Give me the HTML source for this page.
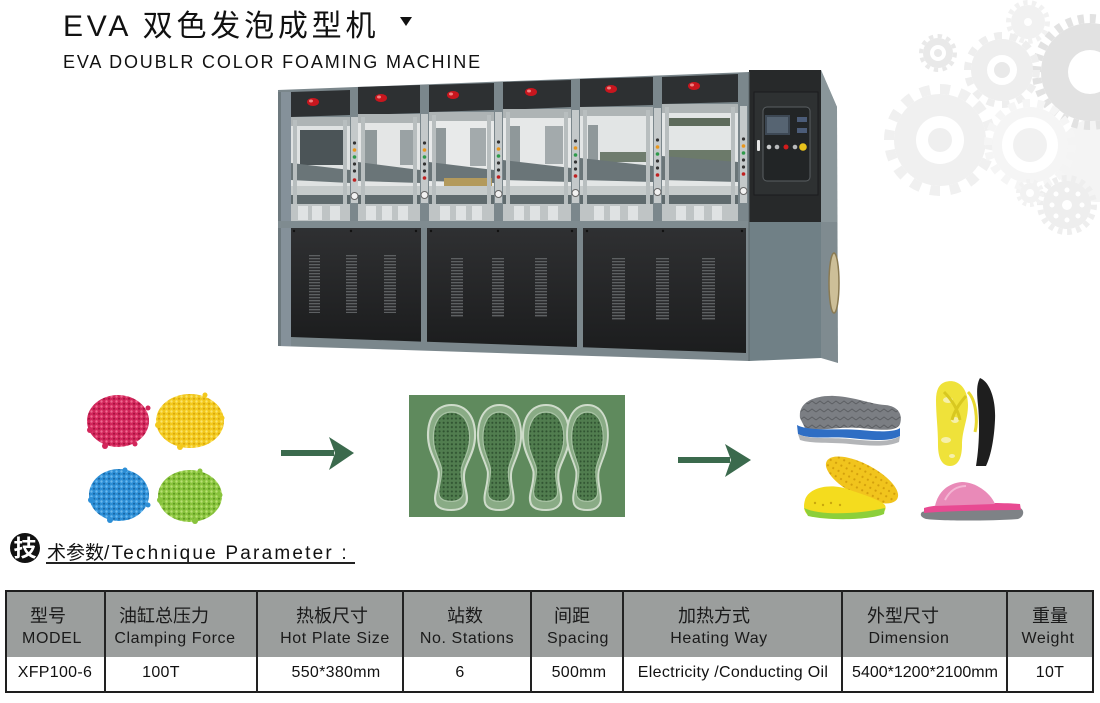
<!DOCTYPE html>
<html><head><meta charset="utf-8">
<style>
html,body{margin:0;padding:0;background:#fff;}
body{width:1100px;height:703px;position:relative;overflow:hidden;font-family:"Liberation Sans","Noto Sans CJK SC",sans-serif;color:#111;}
.a{position:absolute;white-space:nowrap;}
.c{position:absolute;white-space:nowrap;width:240px;text-align:center;}
.zh{font-size:18px;line-height:20px;top:606px;color:#1a1a1a;}
.en{font-size:16px;line-height:18px;top:630px;letter-spacing:0.6px;color:#1a1a1a;}
.dt{font-size:16px;line-height:18px;top:664px;letter-spacing:0.3px;color:#111;}
.vl{position:absolute;top:590px;width:2px;height:103px;background:#222;}
</style></head><body>

<svg width="1100" height="703" viewBox="0 0 1100 703" style="position:absolute;left:0;top:0">
<defs>
<pattern id="vent" width="12" height="3" patternUnits="userSpaceOnUse"><rect width="12" height="3" fill="#2a2b2d"/><rect y="0" width="12" height="1.3" fill="#5d6062"/></pattern>
<linearGradient id="blk" x1="0" y1="0" x2="0" y2="1"><stop offset="0" stop-color="#2f3032"/><stop offset="1" stop-color="#1c1d1e"/></linearGradient>
<pattern id="pk" width="5" height="5" patternUnits="userSpaceOnUse"><rect width="5" height="5" fill="#d2265b"/><circle cx="1.5" cy="1.5" r="1.2" fill="#ef6a90"/><circle cx="4" cy="3.8" r="1" fill="#a3103c"/></pattern>
<pattern id="yl" width="5" height="5" patternUnits="userSpaceOnUse"><rect width="5" height="5" fill="#f3c91d"/><circle cx="1.5" cy="1.5" r="1.2" fill="#fbe46c"/><circle cx="4" cy="3.8" r="1" fill="#d6a40c"/></pattern>
<pattern id="bl" width="5" height="5" patternUnits="userSpaceOnUse"><rect width="5" height="5" fill="#2c8ed6"/><circle cx="1.5" cy="1.5" r="1.2" fill="#6cb9ee"/><circle cx="4" cy="3.8" r="1" fill="#17649f"/></pattern>
<pattern id="gr" width="5" height="5" patternUnits="userSpaceOnUse"><rect width="5" height="5" fill="#88c33c"/><circle cx="1.5" cy="1.5" r="1.2" fill="#b9e074"/><circle cx="4" cy="3.8" r="1" fill="#5c971e"/></pattern>
<pattern id="dots" width="5" height="5" patternUnits="userSpaceOnUse"><rect width="5" height="5" fill="#517d4f"/><circle cx="2.5" cy="2.5" r="1.3" fill="#2f5230"/></pattern>
<pattern id="tread" width="8" height="8" patternUnits="userSpaceOnUse"><rect width="8" height="8" fill="#7b7e83"/><path d="M0,4 L4,1 L8,4" stroke="#5c5f63" stroke-width="1" fill="none"/></pattern>
<pattern id="cdot" width="6" height="6" patternUnits="userSpaceOnUse"><rect width="6" height="6" fill="#f1c41d"/><circle cx="3" cy="3" r="1.1" fill="#d39f0c"/></pattern>
<path id="sole" d="M22,0 C36,0 44,12 44,30 C44,46 36,56 34,66 C32,78 38,88 36,96 C34,102 28,104 22,104 C14,104 8,102 7,96 C5,88 11,78 10,66 C8,56 0,46 0,30 C0,12 8,0 22,0 Z"/>
</defs>

<!-- gears background -->
<circle cx="1098" cy="160" r="42" fill="#f4f4f4"/>
<g fill="#e2e2e2"><circle cx="1090" cy="72" r="49"/><circle cx="1090" cy="72" r="53.5" fill="none" stroke="#e2e2e2" stroke-width="9" pathLength="56" stroke-dasharray="1 1"/></g>
<circle cx="1090" cy="72" r="22" fill="#fff"/>
<g fill="#f1f1f1"><circle cx="1028" cy="22" r="17"/><circle cx="1028" cy="22" r="19.5" fill="none" stroke="#f1f1f1" stroke-width="5" pathLength="28" stroke-dasharray="1 1"/></g>
<circle cx="1028" cy="22" r="4" fill="#fff"/>
<g fill="#eeeeee"><circle cx="1002" cy="70" r="31"/><circle cx="1002" cy="70" r="34.5" fill="none" stroke="#eeeeee" stroke-width="7" pathLength="28" stroke-dasharray="1 1"/></g>
<circle cx="1002" cy="70" r="15" fill="#fff"/><circle cx="1002" cy="70" r="8" fill="#e9e9e9"/>
<g fill="#e9e9e9"><circle cx="938" cy="53" r="15"/><circle cx="938" cy="53" r="17" fill="none" stroke="#e9e9e9" stroke-width="4" pathLength="24" stroke-dasharray="1 1"/></g>
<circle cx="938" cy="53" r="8" fill="#fff"/><circle cx="938" cy="53" r="4" fill="#e9e9e9"/>
<g fill="#f0f0f0"><circle cx="940" cy="140" r="46"/><circle cx="940" cy="140" r="51" fill="none" stroke="#f0f0f0" stroke-width="10" pathLength="32" stroke-dasharray="1 1"/></g>
<circle cx="940" cy="140" r="24" fill="#fff"/><circle cx="940" cy="140" r="12" fill="#efefef"/>
<g fill="#f5f5f5"><circle cx="1030" cy="145" r="38"/><circle cx="1030" cy="145" r="42" fill="none" stroke="#f5f5f5" stroke-width="8" pathLength="36" stroke-dasharray="1 1"/></g>
<circle cx="1030" cy="145" r="28" fill="#fff"/><circle cx="1030" cy="145" r="17" fill="#f1f1f1"/>
<g fill="#eeeeee"><circle cx="1067" cy="205" r="24"/><circle cx="1067" cy="205" r="27" fill="none" stroke="#eeeeee" stroke-width="6" pathLength="36" stroke-dasharray="1 1"/></g>
<g fill="#fff"><circle cx="1067" cy="205" r="5"/><circle cx="1067" cy="190" r="2.5"/><circle cx="1067" cy="220" r="2.5"/><circle cx="1052" cy="205" r="2.5"/><circle cx="1082" cy="205" r="2.5"/><circle cx="1056" cy="194" r="2.5"/><circle cx="1078" cy="216" r="2.5"/><circle cx="1078" cy="194" r="2.5"/><circle cx="1056" cy="216" r="2.5"/></g>
<g fill="#f2f2f2"><circle cx="1030" cy="193" r="10"/><circle cx="1030" cy="193" r="12" fill="none" stroke="#f2f2f2" stroke-width="4" pathLength="20" stroke-dasharray="1 1"/></g>
<circle cx="1030" cy="193" r="4" fill="#fff"/>

<!-- MACHINE -->
<polygon points="278,90 749,72 749,361 278,346" fill="#7b878c"/>
<rect x="278" y="92" width="13" height="254" fill="#85919a"/>
<rect x="278" y="92" width="3" height="254" fill="#6d797e"/>
<!-- station 1 -->
<rect x="291" y="117" width="59" height="104" fill="#dfe2e2"/>
<rect x="300" y="130" width="44" height="35" fill="#4b5457"/>
<polygon points="291,92 350,90 350,115 291,117" fill="#2d3032"/>
<ellipse cx="313" cy="102" rx="6" ry="4" fill="#c8161e"/><ellipse cx="311" cy="101" rx="2" ry="1.5" fill="#f08080"/>
<!-- station 2 -->
<rect x="358" y="114" width="62" height="107" fill="#e4e6e6"/>
<rect x="365" y="130" width="12" height="35" fill="#8f989a"/><rect x="400" y="130" width="14" height="35" fill="#9aa2a4"/>
<polygon points="358,87 420,85 420,113 358,115" fill="#2d3032"/>
<ellipse cx="381" cy="98" rx="6" ry="4" fill="#c8161e"/><ellipse cx="379" cy="97" rx="2" ry="1.5" fill="#f08080"/>
<!-- station 3 -->
<rect x="429" y="112" width="65" height="109" fill="#e8eaea"/>
<rect x="436" y="128" width="10" height="38" fill="#8f989a"/><rect x="470" y="128" width="16" height="38" fill="#a3aaac"/>
<polygon points="429,85 494,83 494,110 429,112" fill="#2d3032"/>
<ellipse cx="453" cy="95" rx="6" ry="4" fill="#c8161e"/><ellipse cx="451" cy="94" rx="2" ry="1.5" fill="#f08080"/>
<!-- station 4 -->
<rect x="503" y="109" width="68" height="112" fill="#e6e8e8"/>
<rect x="510" y="126" width="10" height="38" fill="#8f989a"/><rect x="545" y="126" width="18" height="38" fill="#a3aaac"/>
<polygon points="503,82 571,80 571,107 503,110" fill="#2d3032"/>
<ellipse cx="531" cy="92" rx="6" ry="4" fill="#c8161e"/><ellipse cx="529" cy="91" rx="2" ry="1.5" fill="#f08080"/>
<!-- station 5 -->
<rect x="580" y="107" width="73" height="114" fill="#e2e5e5"/>
<rect x="588" y="125" width="10" height="40" fill="#8f989a"/><rect x="600" y="152" width="48" height="10" fill="#6f7c6e"/>
<polygon points="580,79 653,77 653,105 580,107" fill="#2d3032"/>
<ellipse cx="611" cy="89" rx="6" ry="4" fill="#c8161e"/><ellipse cx="609" cy="88" rx="2" ry="1.5" fill="#f08080"/>
<!-- station 6 -->
<rect x="662" y="104" width="76" height="117" fill="#e3e6e6"/>
<rect x="668" y="150" width="64" height="14" fill="#6c7a6a"/><rect x="668" y="118" width="62" height="8" fill="#5e6b5c"/>
<polygon points="662,77 738,74 738,102 662,104" fill="#2d3032"/>
<ellipse cx="694" cy="86" rx="6" ry="4" fill="#c8161e"/><ellipse cx="692" cy="85" rx="2" ry="1.5" fill="#f08080"/>

<!-- common platens across stations -->
<g>
<rect x="291" y="117" width="59" height="9" fill="#aeb4b5"/>
<rect x="358" y="114" width="62" height="9" fill="#aeb4b5"/>
<rect x="429" y="112" width="65" height="9" fill="#aeb4b5"/>
<rect x="503" y="109" width="68" height="9" fill="#aeb4b5"/>
<rect x="580" y="107" width="73" height="9" fill="#aeb4b5"/>
<rect x="662" y="104" width="76" height="9" fill="#aeb4b5"/>
</g>
<polygon points="291,163 350,170 350,183 291,180" fill="#6a7578"/>
<polygon points="358,162 420,170 420,183 358,181" fill="#6a7578"/>
<polygon points="429,162 494,170 494,183 429,181" fill="#6a7578"/>
<polygon points="503,160 571,168 571,182 503,180" fill="#6a7578"/>
<polygon points="580,158 653,166 653,182 580,180" fill="#6a7578"/>
<polygon points="662,156 738,162 738,182 662,180" fill="#6a7578"/>
<rect x="444" y="178" width="48" height="9" fill="#b39a5c"/>
<rect x="291" y="186" width="447" height="9" fill="#c6cbcb"/>
<rect x="291" y="195" width="447" height="9" fill="#5f6a6d"/>
<rect x="291" y="204" width="447" height="17" fill="#bfc4c5"/>
<g fill="#dfe2e3">
<rect x="298" y="206" width="10" height="14"/><rect x="312" y="206" width="10" height="14"/><rect x="330" y="206" width="10" height="14"/>
<rect x="366" y="206" width="10" height="14"/><rect x="382" y="206" width="10" height="14"/><rect x="398" y="206" width="10" height="14"/>
<rect x="440" y="206" width="10" height="14"/><rect x="456" y="206" width="10" height="14"/><rect x="472" y="206" width="10" height="14"/>
<rect x="514" y="206" width="10" height="14"/><rect x="530" y="206" width="10" height="14"/><rect x="548" y="206" width="10" height="14"/>
<rect x="594" y="206" width="10" height="14"/><rect x="610" y="206" width="10" height="14"/><rect x="628" y="206" width="10" height="14"/>
<rect x="676" y="206" width="10" height="14"/><rect x="694" y="206" width="10" height="14"/><rect x="712" y="206" width="10" height="14"/>
</g>
<!-- frame posts between stations -->
<g fill="#7b878c">
<rect x="350" y="88" width="8" height="134"/><rect x="420" y="85" width="9" height="137"/><rect x="494" y="82" width="9" height="140"/>
<rect x="571" y="80" width="9" height="142"/><rect x="653" y="77" width="9" height="145"/><rect x="738" y="74" width="11" height="148"/>
</g>
<g fill="#b8bebf">
<rect x="293" y="120" width="4" height="84"/><rect x="343" y="120" width="4" height="84"/>
<rect x="361" y="117" width="4" height="87"/><rect x="413" y="117" width="4" height="87"/>
<rect x="432" y="115" width="4" height="89"/><rect x="487" y="115" width="4" height="89"/>
<rect x="506" y="112" width="4" height="92"/><rect x="564" y="112" width="4" height="92"/>
<rect x="583" y="110" width="4" height="94"/><rect x="646" y="110" width="4" height="94"/>
<rect x="665" y="107" width="4" height="97"/><rect x="731" y="107" width="4" height="97"/>
</g>
<!-- control strips -->
<g>
<rect x="351" y="117" width="7" height="86" fill="#c4c9ca"/>
<rect x="421" y="114" width="7" height="89" fill="#c4c9ca"/>
<rect x="495" y="112" width="7" height="91" fill="#c4c9ca"/>
<rect x="572" y="110" width="7" height="93" fill="#c4c9ca"/>
<rect x="654" y="108" width="7" height="95" fill="#c4c9ca"/>
<rect x="740" y="106" width="7" height="97" fill="#c4c9ca"/>
</g>
<g>
<circle cx="354.5" cy="150" r="1.8" fill="#e8961c"/><circle cx="354.5" cy="157" r="1.8" fill="#2e9a4a"/><circle cx="354.5" cy="180" r="1.8" fill="#c02020"/><circle cx="354.5" cy="143" r="1.6" fill="#333"/><circle cx="354.5" cy="164" r="1.6" fill="#333"/><circle cx="354.5" cy="171" r="1.6" fill="#333"/>
<circle cx="424.5" cy="150" r="1.8" fill="#e8961c"/><circle cx="424.5" cy="157" r="1.8" fill="#2e9a4a"/><circle cx="424.5" cy="178" r="1.8" fill="#c02020"/><circle cx="424.5" cy="143" r="1.6" fill="#333"/><circle cx="424.5" cy="164" r="1.6" fill="#333"/><circle cx="424.5" cy="171" r="1.6" fill="#333"/>
<circle cx="498.5" cy="149" r="1.8" fill="#e8961c"/><circle cx="498.5" cy="156" r="1.8" fill="#2e9a4a"/><circle cx="498.5" cy="177" r="1.8" fill="#c02020"/><circle cx="498.5" cy="142" r="1.6" fill="#333"/><circle cx="498.5" cy="163" r="1.6" fill="#333"/><circle cx="498.5" cy="170" r="1.6" fill="#333"/>
<circle cx="575.5" cy="148" r="1.8" fill="#e8961c"/><circle cx="575.5" cy="155" r="1.8" fill="#2e9a4a"/><circle cx="575.5" cy="176" r="1.8" fill="#c02020"/><circle cx="575.5" cy="141" r="1.6" fill="#333"/><circle cx="575.5" cy="162" r="1.6" fill="#333"/><circle cx="575.5" cy="169" r="1.6" fill="#333"/>
<circle cx="657.5" cy="147" r="1.8" fill="#e8961c"/><circle cx="657.5" cy="154" r="1.8" fill="#2e9a4a"/><circle cx="657.5" cy="175" r="1.8" fill="#c02020"/><circle cx="657.5" cy="140" r="1.6" fill="#333"/><circle cx="657.5" cy="161" r="1.6" fill="#333"/><circle cx="657.5" cy="168" r="1.6" fill="#333"/>
<circle cx="743.5" cy="146" r="1.8" fill="#e8961c"/><circle cx="743.5" cy="153" r="1.8" fill="#2e9a4a"/><circle cx="743.5" cy="174" r="1.8" fill="#c02020"/><circle cx="743.5" cy="139" r="1.6" fill="#333"/><circle cx="743.5" cy="160" r="1.6" fill="#333"/><circle cx="743.5" cy="167" r="1.6" fill="#333"/>
</g>
<g fill="#f2f2f2" stroke="#666" stroke-width="1">
<circle cx="354.5" cy="196" r="3.5"/><circle cx="424.5" cy="195" r="3.5"/><circle cx="498.5" cy="194" r="3.5"/><circle cx="575.5" cy="193" r="3.5"/><circle cx="657.5" cy="192" r="3.5"/><circle cx="743.5" cy="191" r="3.5"/>
</g>

<!-- lower section -->
<rect x="278" y="221" width="471" height="7" fill="#7f8b90"/>
<polygon points="291,228 421,228 421,341.6 291,337" fill="url(#blk)"/>
<polygon points="427,228 577,228 577,347 427,341.8" fill="url(#blk)"/>
<polygon points="583,228 746,228 746,353 583,347.3" fill="url(#blk)"/>
<g fill="url(#vent)">
<rect x="309" y="255" width="11" height="58"/><rect x="346" y="255" width="11" height="58"/><rect x="384" y="255" width="12" height="58"/>
<rect x="451" y="257" width="12" height="60"/><rect x="492" y="257" width="12" height="60"/><rect x="535" y="257" width="12" height="60"/>
<rect x="612" y="258" width="13" height="62"/><rect x="656" y="258" width="13" height="62"/><rect x="702" y="258" width="13" height="62"/>
</g>
<g fill="#111"><circle cx="294" cy="231" r="1.2"/><circle cx="351" cy="231" r="1.2"/><circle cx="416" cy="231" r="1.2"/><circle cx="431" cy="231" r="1.2"/><circle cx="498" cy="231" r="1.2"/><circle cx="572" cy="231" r="1.2"/><circle cx="587" cy="231" r="1.2"/><circle cx="663" cy="231" r="1.2"/><circle cx="742" cy="231" r="1.2"/></g>

<!-- control cabinet -->
<rect x="749" y="70" width="72" height="152" fill="#27292a"/>
<rect x="754" y="92" width="64" height="103" fill="#2e3132" stroke="#1b1c1d" stroke-width="1"/>
<rect x="763" y="107" width="47" height="74" rx="4" fill="#222526" stroke="#5a5f62" stroke-width="1"/>
<rect x="765" y="115" width="25" height="20" fill="#3d4854"/>
<rect x="767" y="117" width="21" height="16" fill="#566472"/>
<rect x="797" y="117" width="10" height="5" fill="#4b5c78"/><rect x="797" y="128" width="10" height="5" fill="#4b5c78"/>
<rect x="757" y="140" width="3" height="11" rx="1" fill="#e6e6e6"/>
<circle cx="769" cy="147" r="2.3" fill="#c8cacb"/><circle cx="777" cy="147" r="2.3" fill="#b8babb"/><circle cx="786" cy="147" r="2.5" fill="#d21c1c"/><circle cx="795" cy="147" r="2.3" fill="#b8babb"/><circle cx="803" cy="147" r="3.8" fill="#e8c21c"/>
<polygon points="749,222 821,222 821,358 749,361" fill="#708086"/>
<polygon points="821,70 837,107 838,363 821,358" fill="#7f8b90"/>
<polygon points="821,70 837,107 837,222 821,222" fill="#8a969a"/>
<ellipse cx="834" cy="283" rx="5" ry="30" fill="#cdbf98" stroke="#8a7a52" stroke-width="1.5"/>
<line x1="749" y1="72" x2="749" y2="361" stroke="#5c676b" stroke-width="1"/>

<!-- pellets -->
<ellipse cx="118" cy="421" rx="31" ry="26" fill="url(#pk)"/>
<g fill="#d2265b"><circle cx="90" cy="430" r="3"/><circle cx="148" cy="408" r="2.5"/><circle cx="105" cy="446" r="3"/><circle cx="135" cy="444" r="2.5"/></g>
<ellipse cx="190" cy="421" rx="34" ry="27" fill="url(#yl)"/>
<g fill="#f3c91d"><circle cx="158" cy="425" r="3"/><circle cx="222" cy="418" r="2.5"/><circle cx="180" cy="447" r="3"/><circle cx="205" cy="395" r="2.5"/></g>
<ellipse cx="119" cy="495" rx="30" ry="26" fill="url(#bl)"/>
<g fill="#2c8ed6"><circle cx="91" cy="500" r="3"/><circle cx="148" cy="505" r="2.5"/><circle cx="110" cy="520" r="3"/><circle cx="125" cy="470" r="2.5"/></g>
<ellipse cx="190" cy="496" rx="32" ry="26" fill="url(#gr)"/>
<g fill="#88c33c"><circle cx="160" cy="500" r="3"/><circle cx="220" cy="495" r="2.5"/><circle cx="195" cy="521" r="3"/><circle cx="200" cy="471" r="2.5"/></g>

<!-- arrows -->
<rect x="281" y="450" width="53" height="6" fill="#3b6a4d"/>
<polygon points="329,437 354,453 329,470 335,453" fill="#3b6a4d"/>
<rect x="678" y="457" width="52" height="6" fill="#3b6a4d"/>
<polygon points="725,444 751,460 725,477 731,460" fill="#3b6a4d"/>

<!-- mold -->
<rect x="409" y="395" width="216" height="122" fill="#5f8a5d"/>
<g transform="translate(428,405) scale(1.07,1.01)"><use href="#sole" fill="#89ab85" stroke="#cfdccb" stroke-width="2"/><g transform="translate(5,7) scale(0.77,0.85)"><use href="#sole" fill="url(#dots)" stroke="#a7c2a3" stroke-width="1.5"/></g></g>
<g transform="translate(478,405) scale(0.98,1.01)"><use href="#sole" fill="#89ab85" stroke="#cfdccb" stroke-width="2"/><g transform="translate(5,7) scale(0.77,0.85)"><use href="#sole" fill="url(#dots)" stroke="#a7c2a3" stroke-width="1.5"/></g></g>
<g transform="translate(523,405) scale(1.05,1.01)"><use href="#sole" fill="#89ab85" stroke="#cfdccb" stroke-width="2"/><g transform="translate(5,7) scale(0.77,0.85)"><use href="#sole" fill="url(#dots)" stroke="#a7c2a3" stroke-width="1.5"/></g></g>
<g transform="translate(567,405) scale(0.93,1.01)"><use href="#sole" fill="#89ab85" stroke="#cfdccb" stroke-width="2"/><g transform="translate(5,7) scale(0.77,0.85)"><use href="#sole" fill="url(#dots)" stroke="#a7c2a3" stroke-width="1.5"/></g></g>

<!-- shoes -->
<path d="M800,418 C798,402 815,395 835,396 C855,397 870,404 885,405 C898,406 903,414 900,424 C897,432 880,430 860,428 C840,426 820,432 805,428 Z" fill="url(#tread)"/>
<path d="M797,425 C810,432 840,428 860,430 C880,432 895,432 900,428 L900,436 C890,442 870,440 850,438 C830,436 810,440 798,434 Z" fill="#2f6ec4"/>
<path d="M798,434 C810,440 830,437 850,439 C870,441 890,443 900,436 L899,442 C888,447 870,446 850,444 C830,442 812,444 800,440 Z" fill="#b3b5b8"/>
<path d="M945,382 C958,378 968,388 968,405 C968,420 962,430 962,445 C962,458 958,466 950,466 C942,466 938,458 938,445 C938,428 936,415 936,400 C936,390 939,384 945,382 Z" fill="#efe23a"/>
<g fill="#f8f4c8" opacity="0.8"><ellipse cx="948" cy="400" rx="5" ry="3"/><ellipse cx="955" cy="420" rx="4" ry="3"/><ellipse cx="946" cy="440" rx="5" ry="3"/><ellipse cx="952" cy="456" rx="3" ry="2"/></g>
<path d="M944,392 C952,400 958,410 960,420 M966,396 C958,405 954,412 952,420" stroke="#d8c820" stroke-width="3" fill="none"/>
<path d="M968,392 C976,400 978,420 975,432" stroke="#e8d830" stroke-width="3" fill="none"/>
<path d="M980,378 C990,382 996,400 995,420 C994,442 990,458 986,466 L976,466 C979,448 980,425 978,405 C977,395 976,385 980,378 Z" fill="#1e1e1e"/>
<ellipse cx="862" cy="480" rx="40" ry="16" transform="rotate(28 862 480)" fill="url(#cdot)"/>
<path d="M805,500 C808,488 830,482 850,490 C865,495 880,500 885,505 C888,512 880,517 860,517 L815,517 C806,517 802,510 805,500 Z" fill="#f4dc1e"/>
<path d="M804,508 C820,516 860,514 885,508 L884,514 C870,520 830,521 808,516 Z" fill="#8ccf3a"/>
<g fill="#c9a80e"><circle cx="815" cy="503" r="1.2"/><circle cx="823" cy="505" r="1.2"/><circle cx="831" cy="503" r="1.2"/><circle cx="840" cy="505" r="1.2"/></g>
<path d="M922,512 C935,508 990,506 1020,508 C1025,510 1024,517 1018,519 C990,521 940,521 926,519 C920,517 920,514 922,512 Z" fill="#7e8286"/>
<path d="M924,508 C940,503 995,502 1020,504 L1021,510 C995,510 945,511 924,513 Z" fill="#e84a92"/>
<path d="M935,506 C938,492 948,483 962,482 C975,482 990,492 995,504 Z" fill="#e98ab8"/>
<path d="M945,500 C950,490 958,486 966,486" stroke="#f4b6d4" stroke-width="2" fill="none"/>

<!-- technique heading circle -->
<circle cx="25" cy="548" r="15" fill="#111"/>
</svg>

<!-- Title -->
<div class="a" style="left:63px;top:11px;font-size:30px;line-height:32px;letter-spacing:3.8px;color:#111;font-family:'Liberation Sans','Noto Sans CJK SC',sans-serif;">EVA 双色发泡成型机</div>
<div class="a" style="left:400px;top:17px;width:0;height:0;border-left:6px solid transparent;border-right:6px solid transparent;border-top:9px solid #111;"></div>
<div class="a" style="left:63px;top:52px;font-size:18px;line-height:20px;letter-spacing:1.85px;color:#111;">EVA DOUBLR COLOR FOAMING MACHINE</div>

<!-- technique heading -->
<div class="a" style="left:11px;top:535px;width:28px;text-align:center;font-size:23px;line-height:26px;font-weight:bold;color:#fff;font-family:'Liberation Sans','Noto Sans CJK SC',sans-serif;">技</div>
<div class="a" style="left:47px;top:543px;font-size:19px;line-height:22px;color:#111;font-family:'Liberation Sans','Noto Sans CJK SC',sans-serif;"><span>术参数</span><span style="letter-spacing:2.2px;">/Technique Parameter :</span></div>
<div class="a" style="left:46px;top:562px;width:309px;height:2px;background:#222;"></div>

<!-- table -->
<div class="a" style="left:5px;top:590px;width:1089px;height:67px;background:#9b9e9d;"></div>
<div class="a" style="left:5px;top:590px;width:1089px;height:103px;border:2px solid #1e1e1e;box-sizing:border-box;"></div>
<div class="vl" style="left:104px"></div>
<div class="vl" style="left:256px"></div>
<div class="vl" style="left:402px"></div>
<div class="vl" style="left:530px"></div>
<div class="vl" style="left:622px"></div>
<div class="vl" style="left:841px"></div>
<div class="vl" style="left:1006px"></div>

<div class="c zh" style="left:-72px">型号</div>
<div class="c en" style="left:-68px">MODEL</div>
<div class="c dt" style="left:-65px">XFP100-6</div>

<div class="c zh" style="left:44px">油缸总压力</div>
<div class="c en" style="left:55px">Clamping Force</div>
<div class="c dt" style="left:41px">100T</div>

<div class="c zh" style="left:212px">热板尺寸</div>
<div class="c en" style="left:215px">Hot Plate Size</div>
<div class="c dt" style="left:216px">550*380mm</div>

<div class="c zh" style="left:345px">站数</div>
<div class="c en" style="left:347px">No. Stations</div>
<div class="c dt" style="left:340px">6</div>

<div class="c zh" style="left:452px">间距</div>
<div class="c en" style="left:458px">Spacing</div>
<div class="c dt" style="left:459px">500mm</div>

<div class="c zh" style="left:594px">加热方式</div>
<div class="c en" style="left:599px">Heating Way</div>
<div class="c dt" style="left:613px">Electricity /Conducting Oil</div>

<div class="c zh" style="left:783px">外型尺寸</div>
<div class="c en" style="left:789px">Dimension</div>
<div class="c dt" style="left:805px;letter-spacing:0">5400*1200*2100mm</div>

<div class="c zh" style="left:930px">重量</div>
<div class="c en" style="left:928px">Weight</div>
<div class="c dt" style="left:930px">10T</div>

</body></html>
